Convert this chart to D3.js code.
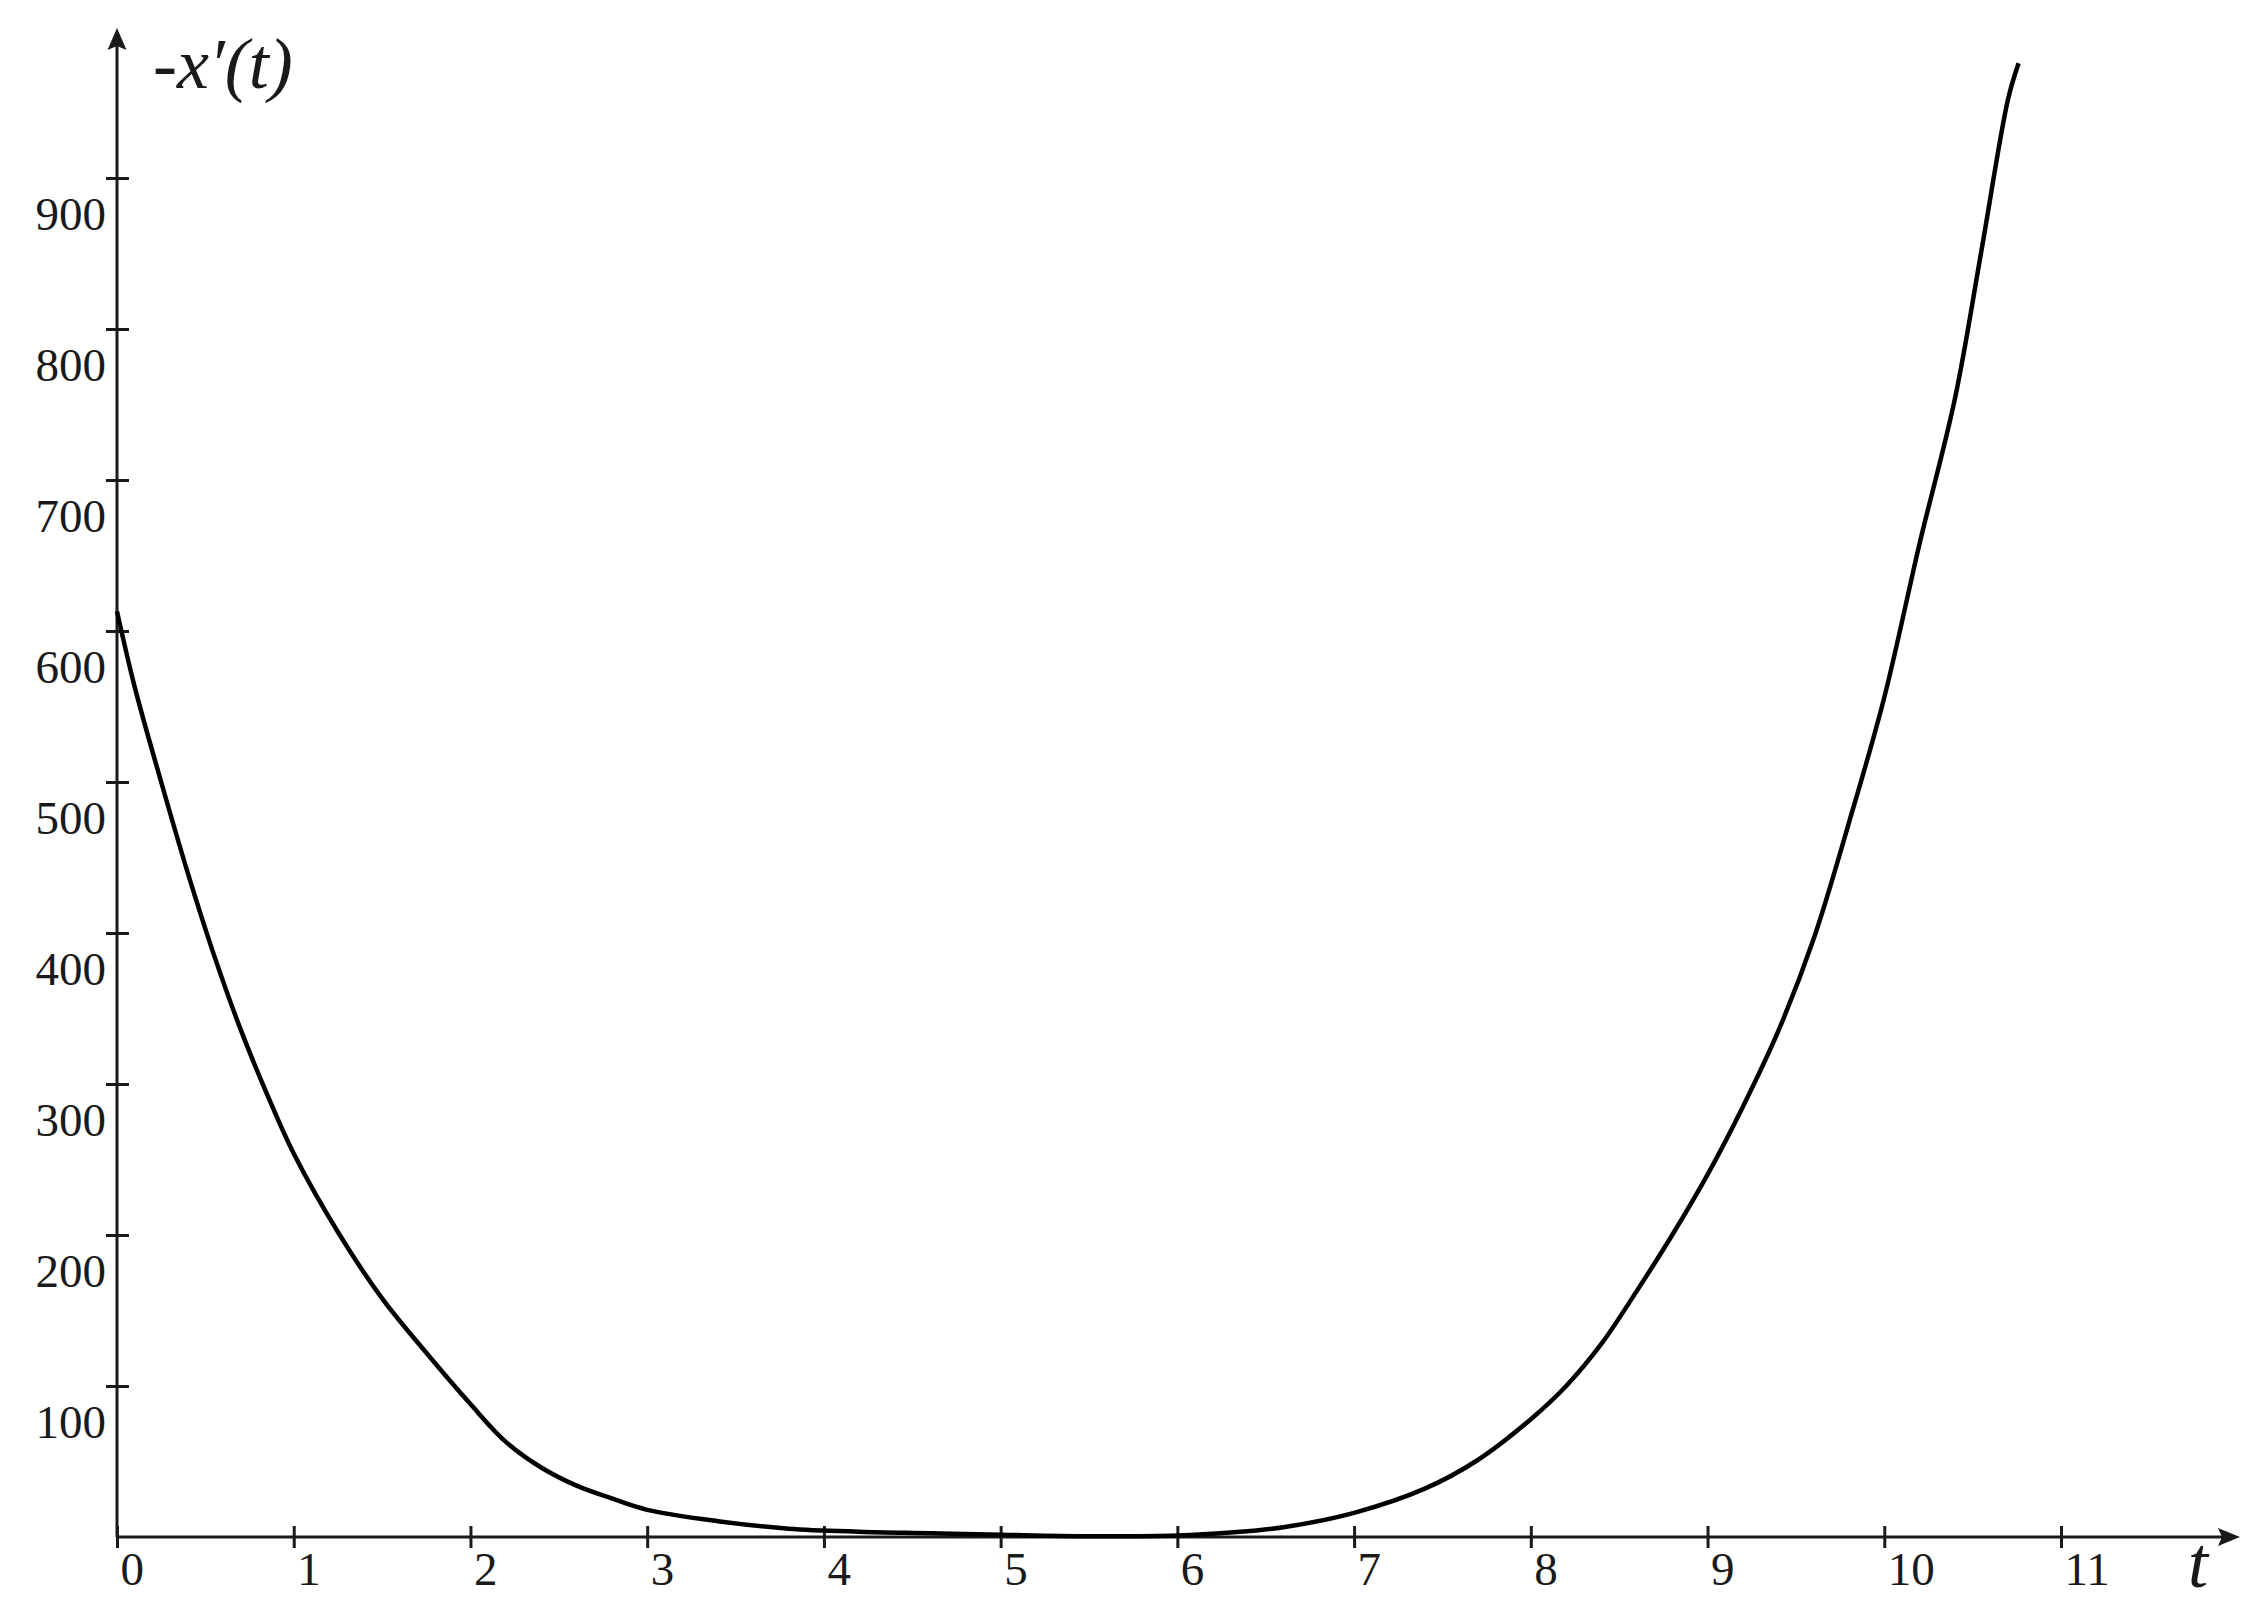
<!DOCTYPE html>
<html>
  <head>
    <meta charset="utf-8">
    <title>-x'(t)</title>
    <script src="https://d3js.org/d3.v7.min.js"></script>
    <style>
      html, body { margin: 0; padding: 0; background: #fff; }
      svg { display: block; }
      .tick > text { font-family: "Liberation Serif", "Times New Roman", serif; font-size: 47px; fill: #1a1a1a; }
      .tick > line { stroke: #1a1a1a; stroke-width: 3; }
      .axis-title { font-family: "Liberation Serif", "Times New Roman", serif; font-style: italic; fill: #1a1a1a; }
    </style>
  </head>
  <body>
    <svg id="chart" width="2259" height="1608"></svg>

    <script>
      // values
      var tValues = [0, 0.1, 0.25, 0.4, 0.55, 0.7, 0.85, 1.0, 1.25, 1.5, 1.75, 2.0, 2.2, 2.4, 2.6, 2.8, 3.0,
                     3.4, 3.8, 4.2, 4.6, 5.0, 5.5, 6.0, 6.3, 6.6, 7.0, 7.4, 7.7, 8.0, 8.2, 8.4, 8.6, 8.8,
                     9.0, 9.2, 9.4, 9.6, 9.8, 10.0, 10.2, 10.4, 10.55, 10.7, 10.76];
      var speed   = [613, 563, 500, 440, 385, 336, 293, 254, 202, 158, 122, 88, 63, 46, 34, 25.5, 18,
                     10.5, 5.5, 3.5, 2.5, 1.5, 0.5, 1, 3, 6.5, 16, 32, 51, 78, 100, 128, 163, 200,
                     240, 285, 335, 396, 473, 556, 658, 754, 852, 952, 976];
      var xTicks = [0, 1, 2, 3, 4, 5, 6, 7, 8, 9, 10, 11];
      var yTicks = [100, 200, 300, 400, 500, 600, 700, 800, 900];

      var data = tValues.map((t, i) => ({ t: t, v: speed[i] }));

      var svg = d3.select("#chart");
      var ink = "#1a1a1a";

      var xScale = d3.scaleLinear().domain([0, 11]).range([117, 2061]);
      var yScale = d3.scaleLinear().domain([0, 900]).range([1537, 178]);

      var x0 = xScale(0), y0 = yScale(0);

      // axis lines with arrow heads
      svg.append("line")
        .attr("x1", x0).attr("y1", y0)
        .attr("x2", 2222).attr("y2", y0)
        .attr("stroke", ink).attr("stroke-width", 3);
      svg.append("path")
        .attr("d", "M2240," + y0 + " L2218," + (y0 - 9) + " L2222," + y0 + " L2218," + (y0 + 9) + " Z")
        .attr("fill", ink);

      svg.append("line")
        .attr("x1", x0).attr("y1", y0)
        .attr("x2", x0).attr("y2", 46)
        .attr("stroke", ink).attr("stroke-width", 3);
      svg.append("path")
        .attr("d", "M" + x0 + ",28 L" + (x0 - 9.5) + ",50 L" + x0 + ",46 L" + (x0 + 9.5) + ",50 Z")
        .attr("fill", ink);

      // x axis ticks
      var xAxis = d3.axisBottom(xScale).tickValues(xTicks).tickFormat(d3.format("d")).tickSize(11);
      var xg = svg.append("g").attr("transform", "translate(0," + y0 + ")").call(xAxis);
      xg.select(".domain").remove();
      xg.selectAll(".tick line").attr("y1", -11).attr("y2", 11);
      xg.selectAll(".tick text")
        .attr("text-anchor", "start")
        .attr("x", 3).attr("y", 48).attr("dy", null);

      // y axis ticks
      var yAxis = d3.axisLeft(yScale).tickValues(yTicks).tickFormat(d3.format("d")).tickSize(11);
      var yg = svg.append("g").attr("transform", "translate(" + x0 + ",0)").call(yAxis);
      yg.select(".domain").remove();
      yg.selectAll(".tick line").attr("x1", -11).attr("x2", 12);
      yg.selectAll(".tick text")
        .attr("text-anchor", "end")
        .attr("x", -11).attr("y", 51).attr("dy", null);

      // curve
      var curveLine = d3.line()
        .x(d => xScale(d.t))
        .y(d => yScale(d.v))
        .curve(d3.curveCatmullRom.alpha(0.5));

      svg.append("path")
        .attr("d", curveLine(data))
        .attr("fill", "none")
        .attr("stroke", "#000")
        .attr("stroke-width", 4.5)
        .attr("stroke-linejoin", "round");

      // axis titles
      svg.append("text").attr("class", "axis-title")
        .attr("x", 153).attr("y", 88)
        .attr("font-size", 72)
        .text("-x\u2032(t)");

      svg.append("text").attr("class", "axis-title")
        .attr("x", 2188).attr("y", 1587)
        .attr("font-size", 72)
        .text("t");
    </script>
  </body>
</html>
